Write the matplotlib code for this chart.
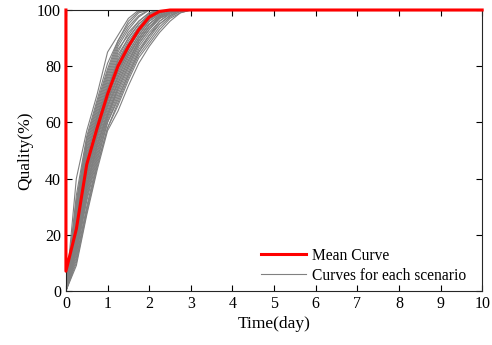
import matplotlib.pyplot as plt
import numpy as np

# sample times (day)
t = [0, 0.25, 0.5, 0.75, 1.0, 1.25, 1.5, 1.75, 2.0, 2.25, 2.5, 2.75, 3.0, 10]

# mean curve (first point is the 100 -> 7 drop at t=0)
t_mean = [0, 0, 0.25, 0.5, 0.75, 1.0, 1.25, 1.5, 1.75, 2.0, 2.25, 2.5, 10]
q_mean = [100, 7, 22, 45, 58, 70, 80, 87, 93, 97.5, 99.5, 100, 100]

# individual scenarios
scenarios = [
    [0, 9, 27, 43, 57, 64, 73, 81, 87, 92, 96, 99, 100, 100],
    [0, 10, 28, 44, 58, 66, 75, 83, 88, 93, 97, 99, 100, 100],
    [0, 11, 29, 45, 58, 67, 76, 84, 89, 94, 97.5, 99.5, 100, 100],
    [0, 12, 30, 46, 60, 68, 77, 85, 90, 95, 98, 99.5, 100, 100],
    [0, 13, 32, 47, 60, 69, 77, 85, 91, 95, 98, 100, 100, 100],
    [0, 14, 33, 48, 61, 70, 78, 86, 91, 96, 98.5, 100, 100, 100],
    [0, 15, 34, 49, 62, 71, 79, 87, 92, 96, 99, 100, 100, 100],
    [0, 15, 35, 50, 62, 72, 80, 88, 93, 97, 99, 100, 100, 100],
    [0, 16, 36, 51, 63, 72, 80, 88, 93, 97, 99, 100, 100, 100],
    [0, 16, 37, 52, 63, 73, 81, 89, 94, 97.5, 99.5, 100, 100, 100],
    [0, 17, 37, 52, 64, 74, 82, 89, 94, 97.5, 99.5, 100, 100, 100],
    [0, 18, 38, 53, 65, 75, 83, 90, 95, 98, 99.5, 100, 100, 100],
    [0, 19, 39, 54, 66, 74, 82, 89, 94, 97, 99, 100, 100, 100],
    [0, 19, 40, 55, 66, 76, 84, 90, 95, 98, 99.5, 100, 100, 100],
    [0, 20, 41, 55, 67, 77, 85, 91, 96, 98.5, 100, 100, 100, 100],
    [0, 21, 40, 56, 68, 76, 84, 90, 95, 98, 99.5, 100, 100, 100],
    [0, 21, 42, 56, 68, 78, 85, 91, 96, 98.5, 100, 100, 100, 100],
    [0, 22, 43, 57, 69, 79, 86, 92, 96.5, 99, 100, 100, 100, 100],
    [0, 23, 42, 58, 70, 78, 86, 93, 97, 99, 100, 100, 100, 100],
    [0, 23, 44, 58, 70, 80, 87, 92, 97, 99, 100, 100, 100, 100],
    [0, 24, 46, 59, 71, 81, 88, 93, 97, 99.5, 100, 100, 100, 100],
    [0, 25, 44, 60, 70, 80, 87, 92, 97, 99, 100, 100, 100, 100],
    [0, 25, 46, 60, 72, 82, 88, 94, 97.5, 99.5, 100, 100, 100, 100],
    [0, 26, 48, 61, 73, 83, 90, 95, 98, 100, 100, 100, 100, 100],
    [0, 27, 47, 62, 72, 82, 89, 94, 98, 100, 100, 100, 100, 100],
    [0, 27, 49, 62, 74, 84, 90, 95, 98.5, 100, 100, 100, 100, 100],
    [0, 28, 50, 63, 75, 85, 92, 96, 99, 100, 100, 100, 100, 100],
    [0, 29, 51, 64, 76, 86, 91, 96, 99, 100, 100, 100, 100, 100],
    [0, 30, 52, 65, 77, 87, 93, 97.5, 100, 100, 100, 100, 100, 100],
    [0, 31, 53, 66, 78, 88, 94, 98, 100, 100, 100, 100, 100, 100],
    [0, 32, 54, 67, 79, 89, 95, 99, 100, 100, 100, 100, 100, 100],
    [0, 34, 55, 68, 81, 89, 96, 99.5, 100, 100, 100, 100, 100, 100],
    [0, 40, 57, 70, 85, 91, 97, 100, 100, 100, 100, 100, 100, 100],
]

plt.rcParams['font.family'] = ['Liberation Serif', 'DejaVu Serif']
plt.rcParams['font.size'] = 11.5

fig = plt.figure(figsize=(4.92, 3.45), dpi=100)
ax = fig.add_axes([0.134, 0.157, 0.846, 0.814])

for i, q in enumerate(scenarios):
    ax.plot(t, q, color='#808080', lw=0.8,
            label='Curves for each scenario' if i == 0 else None)
ax.plot(t_mean, q_mean, color='#ff0000', lw=2.2, label='Mean Curve',
        clip_on=False, zorder=5)

ax.set_xlim(0, 10)
ax.set_ylim(0, 100)
ax.set_xticks(range(0, 11))
ax.set_yticks(range(0, 101, 20))
ax.set_xlabel('Time(day)', labelpad=3, fontsize=12.5)
ax.set_ylabel('Quality(%)', labelpad=3, fontsize=12.5)
ax.tick_params(direction='in', top=True, right=True, length=4, width=0.8)
for s in ax.spines.values():
    s.set_color('#262626')
    s.set_linewidth(0.8)

h, l = ax.get_legend_handles_labels()
ax.legend(h[::-1], l[::-1], loc='lower right', frameon=False, fontsize=11.2,
          bbox_to_anchor=(1.0, -0.03), handlelength=2.9, labelspacing=0.25,
          borderpad=0.5, handletextpad=0.4)

fig.savefig('out.png', dpi=100)
